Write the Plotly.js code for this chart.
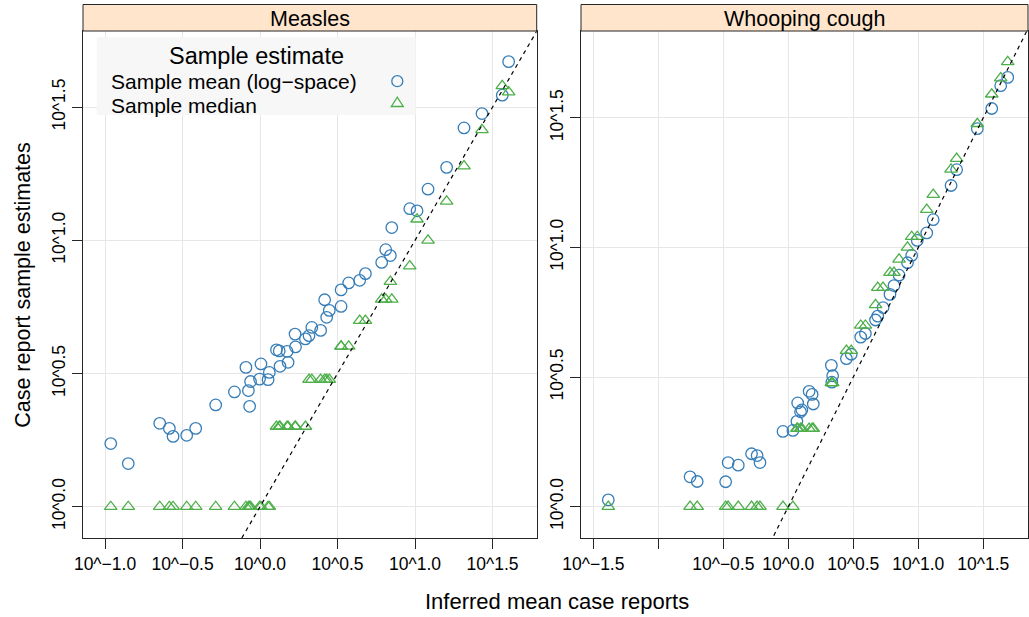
<!DOCTYPE html>
<html>
<head>
<meta charset="utf-8">
<script src="https://cdn.plot.ly/plotly-3.0.1.min.js"></script>
<style>
  html, body { margin: 0; padding: 0; background: #ffffff; }
  #chart { width: 1029px; height: 617px; }
</style>
</head>
<body>
<div id="chart"></div>
<script>
// Values are log10 of case reports (the axes are log10 scaled, labelled 10^x).
const panels = ["Measles", "Whooping cough"];
const seriesNames = ["Sample mean (log\u2212space)", "Sample median"];

// Measles: inferred mean vs sample estimates
const measlesInferred = [-0.963, -0.850, -0.647, -0.585, -0.561, -0.473, -0.415, -0.286, -0.165, -0.091,
  -0.075, -0.067, -0.061, -0.003, 0.006, 0.052, 0.060, 0.106, 0.124, 0.129,
  0.175, 0.181, 0.226, 0.229, 0.293, 0.316, 0.334, 0.391, 0.430, 0.447,
  0.417, 0.523, 0.523, 0.572, 0.643, 0.680, 0.785, 0.811, 0.841, 0.850,
  0.966, 1.013, 1.084, 1.204, 1.316, 1.432, 1.563, 1.604];
const measlesMean = [0.237, 0.162, 0.313, 0.294, 0.264, 0.268, 0.294, 0.382, 0.431, 0.523,
  0.436, 0.377, 0.470, 0.479, 0.536, 0.477, 0.504, 0.589, 0.585, 0.527,
  0.583, 0.542, 0.648, 0.600, 0.630, 0.642, 0.673, 0.662, 0.711, 0.737,
  0.777, 0.752, 0.814, 0.840, 0.850, 0.875, 0.917, 0.965, 0.943, 1.048,
  1.119, 1.111, 1.192, 1.274, 1.422, 1.476, 1.545, 1.671];
const measlesMedian = [0, 0, 0, 0, 0, 0, 0, 0, 0, 0,
  0, 0, 0, 0, 0, 0, 0, 0.30103, 0.30103, 0.30103,
  0.30103, 0.30103, 0.30103, 0.30103, 0.30103, 0.47712, 0.47712, 0.47712, 0.47712, 0.47712,
  0.47712, 0.60206, 0.60206, 0.60206, 0.69897, 0.69897, 0.77815, 0.77815, 0.84510, 0.77815,
  0.90309, 1.07918, 1.0, 1.14613, 1.27875, 1.41497, 1.57978, 1.55630];

// Whooping cough: inferred mean vs sample estimates
const pertussisInferred = [-1.385, -0.756, -0.701, -0.482, -0.463, -0.385, -0.283, -0.240, -0.218, -0.041,
  0.035, 0.066, 0.072, 0.094, 0.104, 0.160, 0.183, 0.192, 0.331, 0.341,
  0.335, 0.447, 0.484, 0.557, 0.593, 0.671, 0.688, 0.729, 0.782, 0.813,
  0.852, 0.917, 0.949, 0.992, 1.065, 1.115, 1.252, 1.295, 1.454, 1.565,
  1.634, 1.688];
const pertussisMean = [0.026, 0.115, 0.097, 0.096, 0.170, 0.160, 0.204, 0.197, 0.170, 0.290,
  0.294, 0.329, 0.400, 0.366, 0.373, 0.445, 0.433, 0.396, 0.545, 0.505,
  0.480, 0.571, 0.588, 0.654, 0.668, 0.720, 0.735, 0.768, 0.819, 0.853,
  0.893, 0.941, 0.969, 1.027, 1.056, 1.107, 1.239, 1.300, 1.458, 1.536,
  1.624, 1.656];
const pertussisMedian = [0, 0, 0, 0, 0, 0, 0, 0, 0, 0,
  0, 0.30103, 0.30103, 0.30103, 0.30103, 0.30103, 0.30103, 0.30103, 0.47712, 0.47712,
  0.47712, 0.60206, 0.60206, 0.69897, 0.69897, 0.77815, 0.84510, 0.84510, 0.90309, 0.90309,
  0.95424, 1.0, 1.04139, 1.04139, 1.14613, 1.20412, 1.30103, 1.34242, 1.47712, 1.59106,
  1.65321, 1.71600];

// Tick positions (log10) and their labels
const measlesXTicks = [-1, -0.5, 0, 0.5, 1, 1.5];
const measlesXLabels = ["10^\u22121.0", "10^\u22120.5", "10^0.0", "10^0.5", "10^1.0", "10^1.5"];
const pertussisXTicks = [-1.5, -1, -0.5, 0, 0.5, 1, 1.5];
const pertussisXLabels = ["10^\u22121.5", "", "10^\u22120.5", "10^0.0", "10^0.5", "10^1.0", "10^1.5"];
const yTicks = [0, 0.5, 1, 1.5];
const yLabels = ["10^0.0", "10^0.5", "10^1.0", "10^1.5"];

// Axis limits per panel (free scales)
const measlesXRange = [-1.142, 1.785];
const measlesYRange = [-0.1175, 1.786];
const pertussisXRange = [-1.595, 1.844];
const pertussisYRange = [-0.121, 1.835];

const BLUE = "#377EB8";
const GREEN = "#4DAF4A";
const FONT = "Liberation Sans, Arial, Helvetica, sans-serif";
const AXIS_COL = "#262626";

function meanTrace(x, y, xa, ya) {
  return { x: x, y: y, xaxis: xa, yaxis: ya, type: "scatter", mode: "markers",
    name: seriesNames[0], showlegend: false, hoverinfo: "skip",
    marker: { symbol: "circle-open", size: 11.5, color: BLUE, line: { color: BLUE, width: 1.3 } } };
}
function medianTrace(x, y, xa, ya) {
  return { x: x, y: y, xaxis: xa, yaxis: ya, type: "scatter", mode: "markers",
    name: seriesNames[1], showlegend: false, hoverinfo: "skip",
    marker: { symbol: "triangle-up-open", size: 11, color: GREEN, line: { color: GREEN, width: 1.3 } } };
}
function identityTrace(range, xa, ya) {
  const ends = [range[0] - 1, range[1] + 1];
  return { x: ends, y: ends, xaxis: xa, yaxis: ya, type: "scatter", mode: "lines",
    showlegend: false, hoverinfo: "skip",
    line: { color: "#000000", width: 1.2, dash: "4px,4px" } };
}

const data = [
  meanTrace(measlesInferred, measlesMean, "x", "y"),
  medianTrace(measlesInferred, measlesMedian, "x", "y"),
  identityTrace(measlesXRange, "x", "y"),
  meanTrace(pertussisInferred, pertussisMean, "x2", "y2"),
  medianTrace(pertussisInferred, pertussisMedian, "x2", "y2"),
  identityTrace(pertussisXRange, "x2", "y2")
];

const axisBase = {
  showline: true, mirror: true, linecolor: AXIS_COL, linewidth: 1,
  ticks: "outside", ticklen: 10, tickwidth: 1, tickcolor: AXIS_COL,
  showgrid: true, gridcolor: "#e6e6e6", gridwidth: 1, zeroline: false,
  tickfont: { family: FONT, size: 17.5, color: "#000000" },
  tickmode: "array", fixedrange: true
};

// Plot area geometry in pixels, used for paper-referenced decorations
const W = 1029, H = 617;
const M = { l: 83, r: 1, t: 31, b: 79 };
const PW = W - M.l - M.r, PH = H - M.t - M.b;
const px = v => (v - M.l) / PW;
const py = v => (H - M.b - v) / PH;

const stripTop = py(4.5);
const shapes = [];
const annotations = [];

// Strips above each panel
[["x", panels[0]], ["x2", panels[1]]].forEach(([xa, label]) => {
  shapes.push({ type: "rect", xref: xa + " domain", yref: "paper", x0: 0, x1: 1, y0: 1, y1: stripTop,
    fillcolor: "#ffe5cc", line: { color: AXIS_COL, width: 1 }, layer: "above" });
  annotations.push({ xref: xa + " domain", yref: "paper", x: 0.5, y: py(19.2), text: label,
    showarrow: false, xanchor: "center", yanchor: "middle",
    font: { family: FONT, size: 21.5, color: "#000000" } });
});

// Key inside the first panel
shapes.push({ type: "rect", xref: "paper", yref: "paper", x0: px(96.7), x1: px(415.7), y0: py(115), y1: py(37.3),
  fillcolor: "#f7f7f7", line: { width: 0 }, layer: "above" });
annotations.push({ xref: "paper", yref: "paper", x: px(256), y: py(55.5), text: "Sample estimate",
  showarrow: false, xanchor: "center", yanchor: "middle",
  font: { family: FONT, size: 23.5, color: "#000000" } });
annotations.push({ xref: "paper", yref: "paper", x: px(109.3), y: py(81.2), text: seriesNames[0],
  showarrow: false, xanchor: "left", yanchor: "middle",
  font: { family: FONT, size: 21, color: "#000000" } });
annotations.push({ xref: "paper", yref: "paper", x: px(109.3), y: py(105.6), text: seriesNames[1],
  showarrow: false, xanchor: "left", yanchor: "middle",
  font: { family: FONT, size: 21, color: "#000000" } });
shapes.push({ type: "circle", xref: "paper", yref: "paper", xsizemode: "pixel", ysizemode: "pixel",
  xanchor: px(397.3), yanchor: py(81.2), x0: -5.5, x1: 5.5, y0: -5.5, y1: 5.5,
  line: { color: BLUE, width: 1.3 }, fillcolor: "rgba(0,0,0,0)", layer: "above" });
shapes.push({ type: "path", xref: "paper", yref: "paper", xsizemode: "pixel", ysizemode: "pixel",
  xanchor: px(397.3), yanchor: py(103.2), path: "M-6,-3.3 L6,-3.3 L0,6 Z",
  line: { color: GREEN, width: 1.3 }, fillcolor: "rgba(0,0,0,0)", layer: "above" });

// Shared axis titles
annotations.push({ xref: "paper", yref: "paper", x: px(557), y: py(601.5), text: "Inferred mean case reports",
  showarrow: false, xanchor: "center", yanchor: "middle",
  font: { family: FONT, size: 22, color: "#000000" } });
annotations.push({ xref: "paper", yref: "paper", x: px(22.3), y: 0.5, text: "Case report sample estimates",
  showarrow: false, xanchor: "center", yanchor: "middle", textangle: -90,
  font: { family: FONT, size: 21.5, color: "#000000" } });

const layout = {
  width: W, height: H,
  margin: M,
  paper_bgcolor: "#ffffff", plot_bgcolor: "#ffffff",
  showlegend: false,
  xaxis: Object.assign({}, axisBase, { domain: [0, px(536.7)], range: measlesXRange,
    tickvals: measlesXTicks, ticktext: measlesXLabels, anchor: "y" }),
  yaxis: Object.assign({}, axisBase, { domain: [0, 1], range: measlesYRange,
    tickvals: yTicks, ticktext: yLabels, tickangle: -90, anchor: "x" }),
  xaxis2: Object.assign({}, axisBase, { domain: [px(581), 1], range: pertussisXRange,
    tickvals: pertussisXTicks, ticktext: pertussisXLabels, anchor: "y2" }),
  yaxis2: Object.assign({}, axisBase, { domain: [0, 1], range: pertussisYRange,
    tickvals: yTicks, ticktext: yLabels, tickangle: -90, anchor: "x2" }),
  shapes: shapes,
  annotations: annotations
};

Plotly.newPlot("chart", data, layout, { staticPlot: true, displayModeBar: false });
</script>
</body>
</html>
